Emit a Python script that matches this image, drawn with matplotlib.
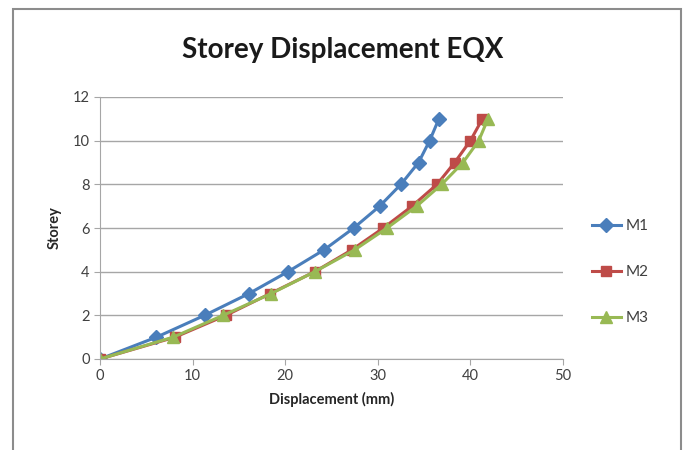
import matplotlib
matplotlib.use('Agg')
import matplotlib.pyplot as plt
from matplotlib.patches import Rectangle

plt.rcParams['font.family'] = ['Lato', 'DejaVu Sans']

storey = [0, 1, 2, 3, 4, 5, 6, 7, 8, 9, 10, 11]
m1 = [0, 6.1, 11.3, 16.1, 20.3, 24.2, 27.4, 30.2, 32.5, 34.4, 35.6, 36.6]
m2 = [0, 8.1, 13.6, 18.4, 23.2, 27.2, 30.6, 33.7, 36.4, 38.3, 40.0, 41.3]
m3 = [0, 7.9, 13.3, 18.5, 23.2, 27.5, 31.0, 34.2, 36.9, 39.2, 40.9, 41.9]

fig = plt.figure(figsize=(6.86, 4.5), dpi=100)
# outer chart border (bottom edge falls off the image)
fig.patches.append(Rectangle((13/686, -5/450), 668/686, 446/450, transform=fig.transFigure,
                             fill=False, edgecolor='#8c8c8c', linewidth=1.5))

ax = fig.add_axes([100/686, 91/450, 463/686, 262/450])
ax.plot(m1, storey, color='#4a7ebb', marker='D', markersize=7, linewidth=2.2, label='M1')
ax.plot(m2, storey, color='#be4b48', marker='s', markersize=7, linewidth=2.2, label='M2')
ax.plot(m3, storey, color='#98b954', marker='^', markersize=8, linewidth=2.2, label='M3')

ax.set_xlim(0, 50)
ax.set_ylim(0, 12)
ax.set_xticks([0, 10, 20, 30, 40, 50])
ax.set_yticks([0, 2, 4, 6, 8, 10, 12])
ax.yaxis.grid(True, color='#a6a6a6', linewidth=1)
ax.set_axisbelow(True)
for s in ['top', 'right']:
    ax.spines[s].set_visible(False)
for s in ['left', 'bottom']:
    ax.spines[s].set_color('#a6a6a6')
ax.tick_params(colors='#a6a6a6', labelcolor='#404040', labelsize=10.5, length=4)
for lbl in ax.get_xticklabels():
    lbl.set_color('#404040')

ax.set_xlabel('Displacement (mm)', fontsize=10.5, fontweight='bold', color='#262626', labelpad=6)
ax.set_ylabel('Storey', fontsize=10.5, fontweight='bold', color='#262626', labelpad=8)
fig.text(0.5, 400/450, 'Storey Displacement EQX', ha='center', va='center',
         fontsize=20, fontweight='bold', color='#1a1a1a')

fig.legend(loc='center left', bbox_to_anchor=(578/686, (450 - 272)/450), frameon=False,
           fontsize=11, labelspacing=2.1, handlelength=1.9, handletextpad=0.3,
           labelcolor='#404040')

plt.savefig('out.png', dpi=100)
